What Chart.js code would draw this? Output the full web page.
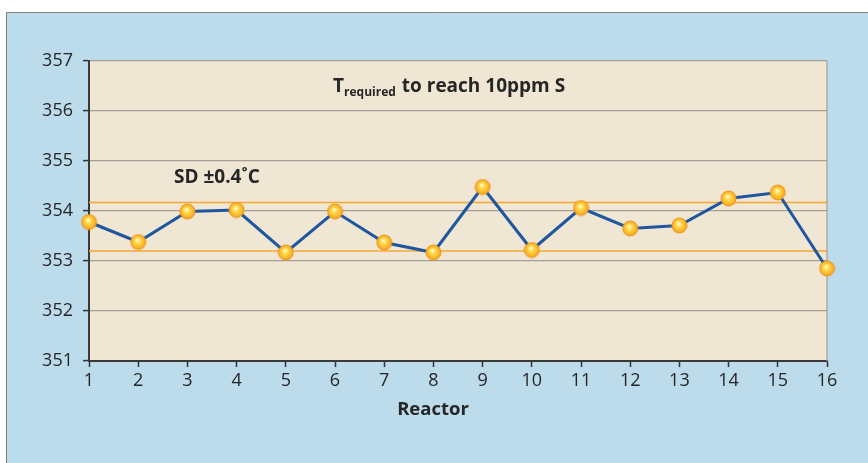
<!DOCTYPE html>
<html>
<head>
<meta charset="utf-8">
<script src="https://cdn.jsdelivr.net/npm/chart.js@4/dist/chart.umd.min.js"></script>
<style>
  html, body { margin: 0; padding: 0; background: #ffffff; }
  #wrap { width: 868px; height: 463px; position: relative; }
</style>
</head>
<body>
<div id="wrap"><canvas id="line-chart" width="868" height="463"></canvas></div>
<script>
// data
var reactors = [1, 2, 3, 4, 5, 6, 7, 8, 9, 10, 11, 12, 13, 14, 15, 16];
var tRequired = [353.78, 353.38, 353.99, 354.02, 353.17, 353.99, 353.37, 353.17,
                 354.48, 353.22, 354.06, 353.65, 353.71, 354.25, 354.37, 352.85];
var sdUpper = 354.17;
var sdLower = 353.20;
var yTicks = [351, 352, 353, 354, 355, 356, 357];

var FONT = "'Open Sans', 'Noto Sans', sans-serif";

// orange ball marker
function makeBall(r) {
    var c = document.createElement('canvas');
    var s = r * 2 + 2;
    c.width = s; c.height = s;
    var g = c.getContext('2d');
    var cx = s / 2, cy = s / 2;
    var grad = g.createRadialGradient(cx - 1, cy - 2, 0.5, cx, cy, r);
    grad.addColorStop(0, '#fffbd0');
    grad.addColorStop(0.35, '#ffd84a');
    grad.addColorStop(0.8, '#fbb52a');
    grad.addColorStop(1, '#f39a1e');
    g.beginPath();
    g.arc(cx, cy, r, 0, Math.PI * 2);
    g.fillStyle = grad;
    g.fill();
    g.lineWidth = 1;
    g.strokeStyle = '#f0961c';
    g.stroke();
    return c;
}
var ball = makeBall(7.5);

var backdrop = {
    id: 'backdrop',
    beforeDraw: function(chart) {
        var ctx = chart.ctx, a = chart.chartArea;
        ctx.save();
        ctx.fillStyle = '#bcdcec';
        ctx.fillRect(6, 12, chart.width - 6, chart.height - 12);
        ctx.strokeStyle = '#7f7f7f';
        ctx.lineWidth = 1;
        ctx.beginPath();
        ctx.moveTo(6.5, chart.height);
        ctx.lineTo(6.5, 12.5);
        ctx.lineTo(chart.width, 12.5);
        ctx.stroke();
        ctx.fillStyle = '#efe6d3';
        ctx.fillRect(a.left, a.top, a.right - a.left, a.bottom - a.top);
        ctx.restore();
    },
    beforeDatasetsDraw: function(chart) {
        var ctx = chart.ctx, a = chart.chartArea;
        ctx.save();
        ctx.strokeStyle = '#a39e96';
        ctx.lineWidth = 1.2;
        ctx.beginPath();
        ctx.moveTo(a.right, a.top);
        ctx.lineTo(a.right, a.bottom);
        ctx.stroke();
        ctx.restore();
    },
    afterDatasetsDraw: function(chart) {
        var ctx = chart.ctx, a = chart.chartArea;
        ctx.save();
        ctx.fillStyle = '#262626';
        ctx.textBaseline = 'alphabetic';
        // title with subscript
        var x = a.left + 244, y = a.top + 31;
        ctx.font = 'bold 19px ' + FONT;
        ctx.fillText('T', x, y);
        x += ctx.measureText('T').width;
        ctx.font = 'bold 12px ' + FONT;
        ctx.fillText('required', x, y + 4);
        x += ctx.measureText('required').width + 6;
        ctx.font = 'bold 19px ' + FONT;
        ctx.fillText('to reach 10ppm S', x, y);
        // SD label
        ctx.fillText('SD \u00b10.4\u02daC', a.left + 85, a.top + 122);
        // axis title
        ctx.textAlign = 'center';
        ctx.textBaseline = 'middle';
        ctx.font = 'bold 18.5px ' + FONT;
        ctx.fillText('Reactor', 433, 410);
        ctx.restore();
    }
};

new Chart(document.getElementById('line-chart'), {
    type: 'line',
    data: {
        datasets: [{
            label: 'SD upper',
            data: [{x: reactors[0], y: sdUpper}, {x: reactors[reactors.length - 1], y: sdUpper}],
            borderColor: '#f7a934',
            borderWidth: 1.5,
            pointRadius: 0,
            order: 3
        }, {
            label: 'SD lower',
            data: [{x: reactors[0], y: sdLower}, {x: reactors[reactors.length - 1], y: sdLower}],
            borderColor: '#f7a934',
            borderWidth: 1.5,
            pointRadius: 0,
            order: 2
        }, {
            label: 'T required',
            data: reactors.map(function(r, i) { return {x: r, y: tRequired[i]}; }),
            borderColor: '#1f56a0',
            borderWidth: 3,
            pointStyle: ball,
            pointRadius: 8,
            tension: 0,
            order: 1
        }]
    },
    options: {
        responsive: false,
        animation: false,
        clip: false,
        layout: { padding: { left: 0, top: 61, right: 41, bottom: 0 } },
        plugins: {
            legend: { display: false },
            tooltip: { enabled: false }
        },
        scales: {
            x: {
                type: 'linear',
                min: 1,
                max: 16,
                afterFit: function(s) { s.height = 102; },
                afterBuildTicks: function(s) { s.ticks = reactors.map(function(v) { return {value: v}; }); },
                grid: { drawOnChartArea: false, drawTicks: true, tickLength: 6, tickColor: '#333', tickWidth: 1.5 },
                border: { color: '#3a3a3a', width: 2 },
                ticks: { color: '#262626', padding: 3, font: { family: FONT, size: 18 } }
            },
            y: {
                min: 351,
                max: 357,
                afterFit: function(s) { s.width = 89; },
                afterBuildTicks: function(s) { s.ticks = yTicks.map(function(v) { return {value: v}; }); },
                grid: { color: '#a39e96', lineWidth: 1.2, tickLength: 6, tickColor: '#333', tickWidth: 1.5 },
                border: { color: '#3a3a3a', width: 2 },
                ticks: { color: '#262626', padding: 10, font: { family: FONT, size: 18 } }
            }
        }
    },
    plugins: [backdrop]
});
</script>
</body>
</html>
